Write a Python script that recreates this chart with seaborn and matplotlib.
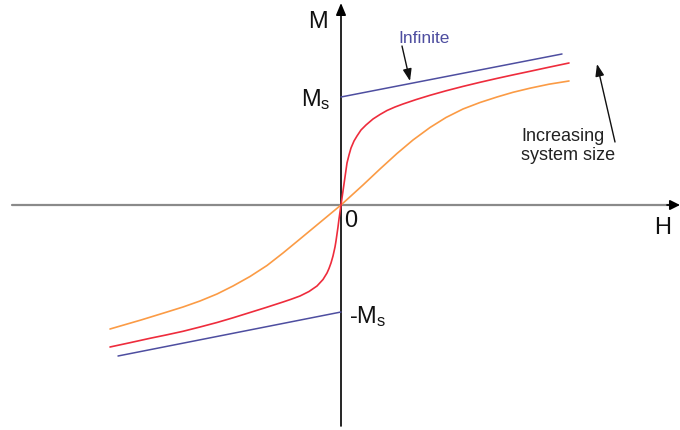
import matplotlib
matplotlib.use("Agg")
import matplotlib.pyplot as plt
import seaborn as sns

sns.set_theme(style="white")
plt.rcParams["font.family"] = ["Liberation Sans", "DejaVu Sans"]
plt.rcParams["mathtext.fontset"] = "custom"
plt.rcParams["mathtext.rm"] = "Liberation Sans"
plt.rcParams["mathtext.it"] = "Liberation Sans"

# Magnetisation curves M(H) for finite systems and the infinite limit
red_H = [-231, -211, -191, -175, -158, -141, -124, -108, -91, -75, -58, -50, -41,
         -32, -24, -18, -14, -12, -10, -8, -6, -5, -4, -3, -2, -1, 0,
         1, 2, 3, 4, 5, 6, 8, 10, 13, 16, 20, 25, 32, 39, 46, 54, 62, 75, 89,
         105, 122, 139, 156, 172, 189, 208, 228]
red_M = [-142, -137.7, -133.3, -130, -126.3, -122, -117.5, -112.8, -107.5, -102.5, -97,
         -94.3, -91, -86.5, -81, -74.5, -68, -63.5, -58, -51, -42, -36, -29, -22, -14,
         -7, 0,
         7, 14, 21, 28, 35, 42, 50, 57, 64, 69, 75, 80, 86, 90.5, 94.5, 98, 101,
         105.4, 109.7, 114.2, 118.6, 122.7, 126.6, 130.1, 133.7, 137.8, 142]

orange_H = [-231, -200, -174, -158, -141, -124, -108, -91, -74, -58, -41, -20, 0,
            11, 22, 39, 56, 72, 89, 105, 122, 139, 156, 172, 189, 208, 228]
orange_M = [-124, -115, -107, -102, -96, -89, -81, -71.5, -60.5, -48, -34, -16.6, 0,
            10, 20, 36, 51.5, 65, 77.5, 87.5, 96, 102.5, 108, 112.7, 116.8, 120.8, 124]

infinite_neg_H = [-223, 0]
infinite_neg_M = [-151, -107]
infinite_pos_H = [0, 221]
infinite_pos_M = [108, 151]

colors = {"orange": "#fb9b45", "red": "#ee2c3c", "blue": "#4e4ea0"}

fig = plt.figure(figsize=(6.8, 4.31), dpi=100)
ax = fig.add_axes([0, 0, 1, 1])
ax.set_xlim(-341, 339)
ax.set_ylim(-225, 206)
ax.axis("off")

# Coordinate axes
ax.plot([-329, 330], [0, 0], color="#8a8a8a", lw=1.6, zorder=1)
ax.annotate("", xy=(339, 0), xytext=(326, 0),
            arrowprops=dict(arrowstyle="-|>,head_length=0.5,head_width=0.25",
                            color="black", lw=1.2, shrinkA=0, shrinkB=0))
ax.annotate("", xy=(0, 202), xytext=(0, -221),
            arrowprops=dict(arrowstyle="-|>,head_length=0.6,head_width=0.25",
                            color="black", lw=1.2, shrinkA=0, shrinkB=0), zorder=2)

sns.lineplot(x=orange_H, y=orange_M, color=colors["orange"], lw=1.2, ax=ax,
             estimator=None, sort=False, zorder=3)
sns.lineplot(x=red_H, y=red_M, color=colors["red"], lw=1.2, ax=ax,
             estimator=None, sort=False, zorder=4)
sns.lineplot(x=infinite_neg_H, y=infinite_neg_M, color=colors["blue"], lw=1.1, ax=ax,
             estimator=None, sort=False, zorder=3)
sns.lineplot(x=infinite_pos_H, y=infinite_pos_M, color=colors["blue"], lw=1.1, ax=ax,
             estimator=None, sort=False, zorder=3)

# Axis labels and markers
ax.text(-23, 184, "M", fontsize=17, ha="center", va="center", color="#111111")
ax.text(322, -22, "H", fontsize=17, ha="center", va="center", color="#111111")
ax.text(10, -15, "0", fontsize=17, ha="center", va="center", color="#111111")
ax.text(-10, 106, r"$\mathregular{M_s}$", fontsize=17, ha="right", va="center",
        color="#111111")
ax.text(8, -111, r"-$\mathregular{M_s}$", fontsize=17, ha="left", va="center",
        color="#111111")

# Annotations
ax.text(83, 168, "Infinite", fontsize=12.5, ha="center", va="center",
        color=colors["blue"])
ax.annotate("", xy=(69, 124), xytext=(61, 159),
            arrowprops=dict(arrowstyle="-|>,head_length=0.6,head_width=0.22",
                            color="#111111", lw=1.0, shrinkA=0, shrinkB=0))
ax.text(180, 60, "Increasing\nsystem size", fontsize=13, ha="left", va="center",
        linespacing=1.15, color="#222222")
ax.annotate("", xy=(256, 141), xytext=(274, 63),
            arrowprops=dict(arrowstyle="-|>,head_length=0.6,head_width=0.22",
                            color="#111111", lw=1.0, shrinkA=0, shrinkB=0))

fig.savefig("out.png", dpi=100)
